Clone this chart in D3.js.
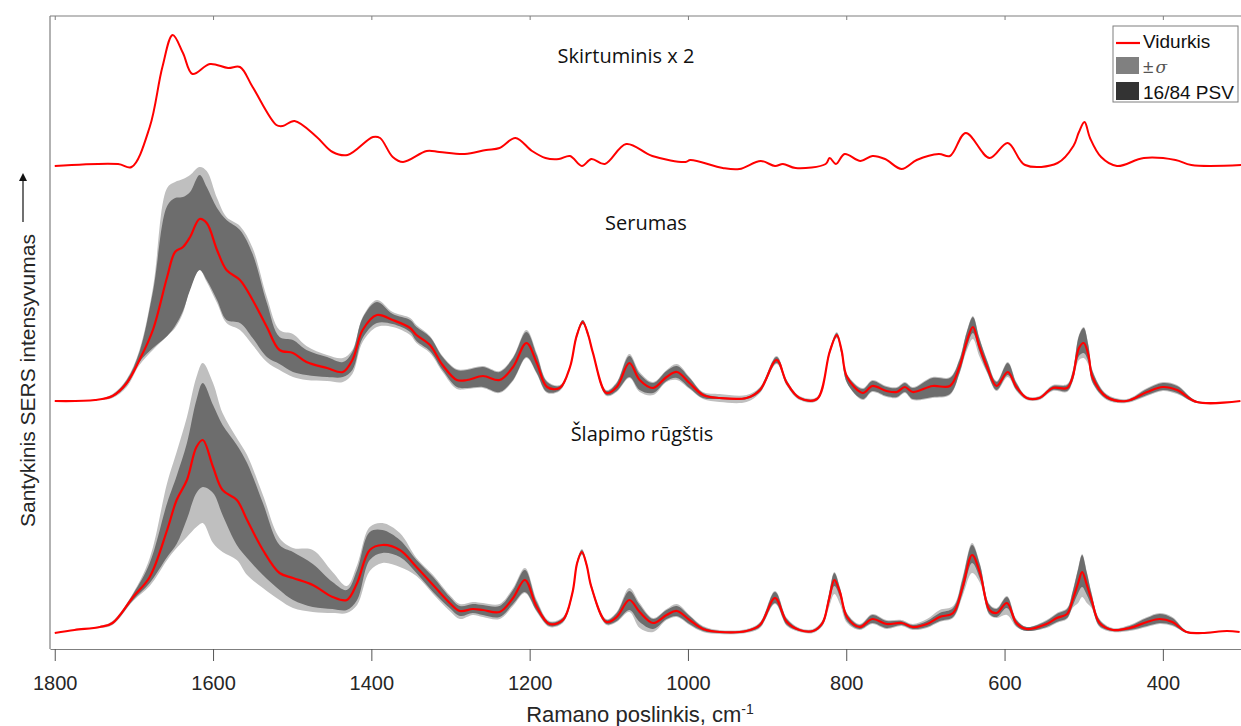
<!DOCTYPE html>
<html>
  <head>
    <meta charset="utf-8" />
    <title>SERS spektrai</title>
    <style>
      body { margin: 0; background: #fff; }
      text { font-family: "Liberation Sans", Arial, sans-serif; fill: #262626; }
      .note { font-family: "Open Sans", sans-serif; font-size: 20px; fill: #111; }
    </style>
  </head>
  <body>
    <svg id="chart" width="1241" height="726"></svg>
    <script src="https://d3js.org/d3.v7.min.js"></script>
    <script>
      // tick labels on the Raman shift axis
      const tickValues = [1800, 1600, 1400, 1200, 1000, 800, 600, 400];

      // Skirtuminis x 2 (difference spectrum)
      const skWn = [1800,1720,1703,1680,1664,1651,1638,1626,1604,1581,1566,1550,1520,1512,1497,1469,1449,1430,1398,1389,1373,1360,1330,1314,1282,1255,1238,1218,1197,1180,1163,1149,1134,1122,1105,1078,1045,1003,997,956,935,908,890,880,864,826,821,813,802,782,767,751,730,711,683,669,649,619,596,574,533,513,506,499,492,478,458,424,384,364,300];
      const skVal = [-1,1,-2,38,98,130,112,91,101,97,98,78,40,39,44,28,13,10,28,27,8,3,14,13,11,15,17,27,14,7,6,9,-1,6,1,21,9,3,5,-3,-4,4,-1,1,-3,1,7,1,11,4,9,6,-4,5,11,9,32,7,22,0,2,19,33,43,27,8,-1,7,5,0,0];

      // Serumas: mean, and band offsets from the mean (up / down)
      const serWn = [1800,1749,1727,1709,1693,1676,1658,1648,1638,1629,1617,1608,1595,1583,1566,1550,1532,1516,1499,1482,1456,1436,1424,1411,1393,1373,1351,1343,1326,1310,1292,1279,1259,1238,1221,1204,1191,1178,1162,1149,1141,1133,1126,1120,1103,1090,1074,1061,1044,1027,1014,998,981,960,926,909,888,875,859,837,821,812,806,799,779,767,749,736,726,716,691,669,657,648,640,632,622,610,596,585,572,556,539,521,514,506,500,494,489,471,446,420,400,382,357,302];
      const serMean = [0,1,5,18,41,71,124,149,154,164,182,178,151,131,121,101,74,51,48,39,33,29,41,71,86,81,73,66,56,36,21,21,25,21,34,58,38,14,13,34,64,79,66,48,8,14,38,21,13,24,29,18,6,3,3,11,41,18,3,2,49,66,51,24,8,15,10,9,14,9,15,15,34,59,74,55,34,15,29,14,3,3,13,13,24,53,58,46,24,4,0,9,14,11,-1,0];
      const serP84 = [0,0,1,3,8,38,71,54,50,45,44,36,42,50,50,46,24,13,13,12,11,10,8,12,13,6,8,8,8,8,10,10,9,8,9,11,8,5,2,1,2,2,2,1,2,4,7,6,5,6,6,5,2,1,1,2,3,2,1,1,2,2,2,2,4,5,4,4,4,4,8,8,7,9,10,8,6,4,9,4,1,1,2,3,5,12,15,9,6,2,1,3,4,4,1,0];
      const serP16 = [0,0,1,2,2,18,59,74,64,53,51,57,50,50,43,38,30,14,19,13,9,5,10,8,8,4,4,6,6,5,7,8,11,12,13,14,10,5,2,1,2,2,2,1,2,4,14,10,5,4,6,5,3,1,1,2,3,2,1,1,2,2,4,6,6,5,5,5,5,7,11,8,6,6,6,5,5,4,3,3,1,1,2,3,4,8,10,7,5,2,1,3,3,3,1,0];
      const serSigHi = [0,0,2,4,10,42,89,70,68,62,52,52,52,53,54,52,30,20,19,16,13,14,10,13,15,8,10,10,9,9,11,11,10,9,10,13,10,6,3,2,3,2,3,2,3,5,9,8,6,7,8,6,3,4,3,3,4,3,2,2,3,3,3,3,5,6,5,5,5,5,9,9,8,10,11,9,7,5,10,5,2,2,3,4,6,13,16,10,7,3,2,4,5,5,1,0];
      const serSigLo = [0,0,2,4,5,20,59,76,66,51,51,59,53,53,50,45,35,20,24,18,13,10,14,12,12,7,7,8,8,7,9,9,12,13,14,15,11,6,3,2,3,2,3,2,3,5,15,12,7,5,8,6,4,4,4,3,4,3,2,2,3,3,5,6,7,6,6,6,6,8,12,9,7,9,12,10,6,5,5,4,2,2,3,4,5,12,15,10,6,3,2,4,4,4,1,0];

      // Šlapimo rūgštis: mean, and band offsets from the mean (up / down)
      const slWn = [1800,1775,1743,1727,1701,1680,1658,1646,1633,1621,1613,1600,1588,1570,1557,1537,1516,1499,1474,1449,1431,1418,1402,1386,1364,1343,1322,1301,1288,1272,1259,1238,1221,1206,1191,1175,1158,1146,1140,1134,1128,1122,1103,1090,1074,1061,1044,1027,1014,998,981,960,926,909,890,875,859,842,830,822,815,808,799,783,767,749,730,716,698,682,665,653,641,631,619,610,597,585,572,547,534,521,514,507,502,496,490,480,463,442,420,404,388,370,350,319,303];
      const slMean = [0,3,6,10,36,56,103,133,153,186,193,166,143,133,113,83,60,55,48,36,33,50,83,88,83,66,48,30,22,24,23,21,35,53,26,9,13,40,70,81,68,46,11,16,33,21,10,18,22,13,4,1,2,8,35,11,3,2,10,33,53,41,16,6,14,9,10,6,9,16,20,46,78,60,23,20,30,10,4,9,15,19,33,50,61,48,33,10,3,5,11,14,11,1,0,2,1];
      const slP84 = [0,0,0,1,3,14,27,24,37,47,57,62,65,55,57,47,28,26,21,15,10,13,18,15,10,7,8,6,5,5,5,6,8,10,5,2,2,2,2,2,2,2,2,4,9,7,4,5,5,4,2,1,1,2,6,3,1,1,2,5,7,4,3,2,4,3,2,2,3,4,5,8,10,8,5,4,6,3,2,3,4,5,8,14,17,12,6,3,1,2,4,5,4,1,0,0,0];
      const slP16 = [0,0,0,1,3,6,27,44,39,46,47,26,25,45,38,25,17,22,22,12,10,17,10,8,7,6,7,5,5,4,5,5,6,12,4,2,2,2,2,2,2,2,2,4,10,10,6,4,5,4,2,1,1,2,5,3,1,1,2,4,6,5,4,2,4,4,2,2,3,4,4,6,8,6,4,4,5,3,2,3,4,4,6,10,15,10,6,3,1,2,4,4,3,1,0,0,0];
      const slSigHi = [0,0,1,2,4,19,47,48,63,70,77,84,77,62,65,55,35,30,35,25,14,18,23,22,17,9,10,8,7,7,7,8,10,12,7,3,3,3,3,3,3,3,3,5,12,9,5,6,7,5,3,2,2,3,7,4,2,2,3,6,8,5,4,3,5,4,3,3,5,7,7,10,12,9,6,5,7,4,2,4,5,6,9,15,18,13,7,4,2,3,5,6,5,1,1,0,0];
      const slSigLo = [0,0,1,2,4,9,30,48,57,80,83,76,62,60,55,38,27,30,27,16,13,22,21,18,17,9,9,8,8,6,7,7,8,13,5,3,3,3,3,3,3,3,3,5,12,16,9,5,6,5,3,2,2,3,6,4,2,2,3,8,14,12,6,3,5,5,3,3,4,5,5,9,18,10,5,5,12,4,2,4,5,5,8,20,25,18,8,4,2,3,5,5,4,1,1,0,0];

      // vertical offsets of the stacked spectra (relative intensity units)
      const offSl = 16, offSer = 248, offSk = 484;

      let margin = { top: 16, right: 0, bottom: 77, left: 50 },
        width = 1192,
        height = 633;

      const svg = d3.select("#chart");

      const xScale = d3.scaleLinear().domain([1806, 300]).range([margin.left, margin.left + width]);
      const yScale = d3.scaleLinear().domain([0, 633]).range([margin.top + height, margin.top]);
      const curve = d3.curveCatmullRom.alpha(0.5);

      svg.append("clipPath").attr("id", "plotClip")
        .append("rect")
        .attr("x", margin.left).attr("y", margin.top)
        .attr("width", width).attr("height", height);

      const plot = svg.append("g").attr("clip-path", "url(#plotClip)");

      function drawSpectrum(wn, mean, p84, p16, sHi, sLo, off) {
        const rows = wn.map((w, i) => ({
          w: w,
          m: off + mean[i],
          hi: off + mean[i] + p84[i],
          lo: off + mean[i] - p16[i],
          sHi: off + mean[i] + sHi[i],
          sLo: off + mean[i] - sLo[i],
        }));
        const sigArea = d3.area().curve(curve)
          .x((d) => xScale(d.w)).y0((d) => yScale(d.sLo)).y1((d) => yScale(d.sHi));
        const psvArea = d3.area().curve(curve)
          .x((d) => xScale(d.w)).y0((d) => yScale(d.lo)).y1((d) => yScale(d.hi));
        const meanLine = d3.line().curve(curve)
          .x((d) => xScale(d.w)).y((d) => yScale(d.m));
        plot.append("path").datum(rows).attr("d", sigArea).attr("fill", "#bfbfbf");
        plot.append("path").datum(rows).attr("d", psvArea).attr("fill", "#6d6d6d");
        plot.append("path").datum(rows).attr("d", meanLine)
          .attr("fill", "none").attr("stroke", "#ff0000").attr("stroke-width", 2.2);
      }

      drawSpectrum(serWn, serMean, serP84, serP16, serSigHi, serSigLo, offSer);
      drawSpectrum(slWn, slMean, slP84, slP16, slSigHi, slSigLo, offSl);

      // difference spectrum, only the line
      const skLine = d3.line().curve(curve)
        .x((d, i) => xScale(skWn[i])).y((d) => yScale(offSk + d));
      plot.append("path").datum(skVal).attr("d", skLine)
        .attr("fill", "none").attr("stroke", "#ff0000").attr("stroke-width", 2);

      // frame: left and top lines
      svg.append("line")
        .attr("x1", margin.left).attr("x2", margin.left)
        .attr("y1", margin.top).attr("y2", margin.top + height)
        .attr("stroke", "#7f7f7f").attr("stroke-width", 1.2);
      svg.append("line")
        .attr("x1", margin.left).attr("x2", margin.left + width)
        .attr("y1", margin.top).attr("y2", margin.top)
        .attr("stroke", "#7f7f7f").attr("stroke-width", 1.2);

      // top minor ticks pointing inward
      svg.append("g")
        .attr("transform", "translate(0," + margin.top + ")")
        .call(d3.axisTop(xScale).tickValues(tickValues).tickSize(-4).tickFormat(""))
        .call((g) => g.select(".domain").remove())
        .call((g) => g.selectAll("line").attr("stroke", "#7f7f7f"));

      // bottom axis
      const xAxis = svg.append("g")
        .attr("transform", "translate(0," + (margin.top + height) + ")")
        .call(d3.axisBottom(xScale).tickValues(tickValues).tickFormat(d3.format("d"))
          .tickSize(12).tickPadding(15).tickSizeOuter(0));
      xAxis.select(".domain").attr("stroke", "#7f7f7f").attr("stroke-width", 1.2);
      xAxis.selectAll(".tick line").attr("stroke", "#555");
      xAxis.selectAll("text")
        .style("font-family", '"Liberation Sans", Arial, sans-serif')
        .style("font-size", "20px").style("fill", "#262626");

      // x axis title
      const xTitle = svg.append("text")
        .attr("x", 640).attr("y", 722)
        .attr("text-anchor", "middle")
        .style("font-size", "22px");
      xTitle.append("tspan").text("Ramano poslinkis, cm");
      xTitle.append("tspan").text("-1").attr("dy", -8).style("font-size", "14px");

      // y axis title with arrow
      const yTitle = svg.append("text")
        .attr("transform", "translate(35,527) rotate(-90)")
        .attr("text-anchor", "start")
        .style("font-size", "21px")
        .text("Santykinis SERS intensyvumas");
      const yLen = yTitle.node().getComputedTextLength();
      const arrowStart = 527 - yLen - 12;
      const arrowEnd = 173;
      svg.append("line")
        .attr("x1", 23).attr("x2", 23)
        .attr("y1", arrowStart).attr("y2", arrowEnd + 6)
        .attr("stroke", "#111").attr("stroke-width", 1.2);
      svg.append("path")
        .attr("d", "M19," + (arrowEnd + 8) + " L23," + arrowEnd + " L27," + (arrowEnd + 8) + " Z")
        .attr("fill", "#111");

      // spectrum labels
      svg.append("text").attr("class", "note").attr("x", 626).attr("y", 63)
        .attr("text-anchor", "middle").text("Skirtuminis x 2");
      svg.append("text").attr("class", "note").attr("x", 646).attr("y", 230)
        .attr("text-anchor", "middle").text("Serumas");
      svg.append("text").attr("class", "note").attr("x", 642).attr("y", 441)
        .attr("text-anchor", "middle").text("Šlapimo rūgštis");

      // legend
      const legend = svg.append("g").attr("transform", "translate(1113,26)");
      legend.append("rect")
        .attr("width", 125).attr("height", 76)
        .attr("fill", "#fff").attr("stroke", "#7f7f7f").attr("stroke-width", 1);
      legend.append("line")
        .attr("x1", 3).attr("x2", 27).attr("y1", 17).attr("y2", 17)
        .attr("stroke", "#ff0000").attr("stroke-width", 2.2);
      legend.append("rect").attr("x", 3).attr("y", 31).attr("width", 23).attr("height", 17).attr("fill", "#808080");
      legend.append("rect").attr("x", 3).attr("y", 56).attr("width", 23).attr("height", 18).attr("fill", "#333333");

      legend.append("text").attr("x", 30).attr("y", 22)
        .style("font-size", "19px").style("fill", "#111").text("Vidurkis");
      const pm = legend.append("text").attr("x", 30).attr("y", 47)
        .style("font-size", "19px").style("fill", "#555");
      pm.append("tspan").text("±");
      pm.append("tspan").attr("dx", 2).style("font-style", "italic")
        .style("font-family", '"DejaVu Serif", serif').style("font-size", "17px").text("σ");
      legend.append("text").attr("x", 30).attr("y", 73)
        .style("font-size", "19px").style("fill", "#111").text("16/84 PSV");
    </script>
  </body>
</html>
